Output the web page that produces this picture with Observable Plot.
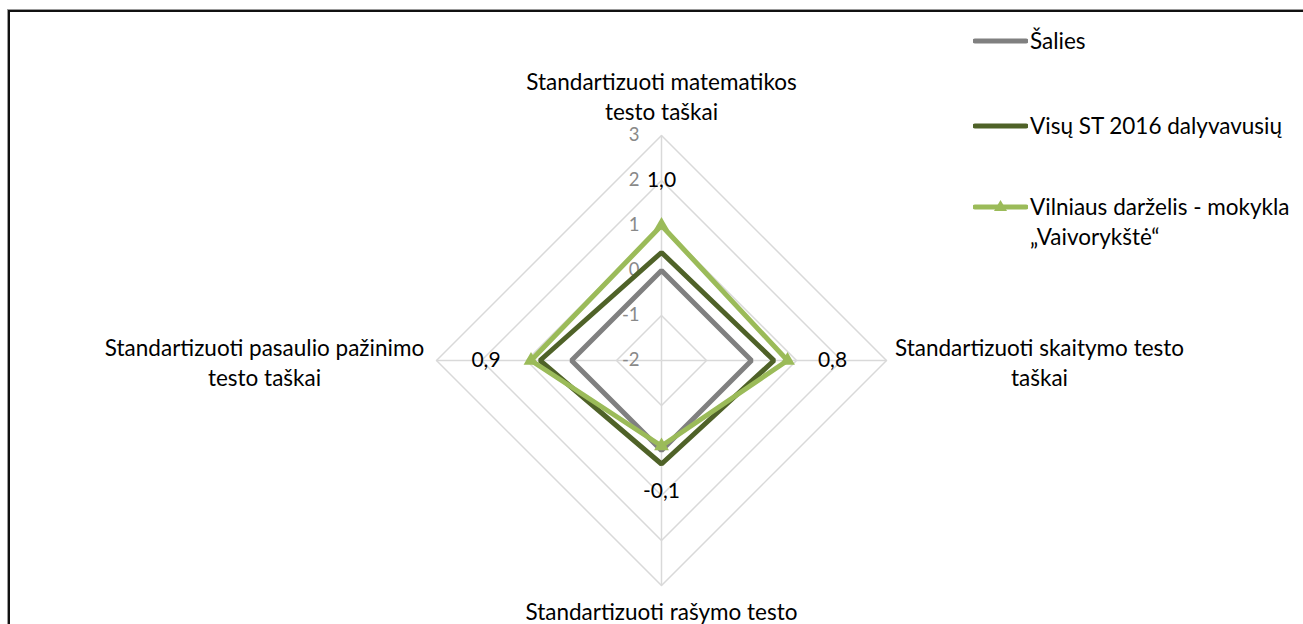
<!DOCTYPE html>
<html><head><meta charset="utf-8">
<script src="https://cdn.jsdelivr.net/npm/d3@7"></script>
<script src="https://cdn.jsdelivr.net/npm/@observablehq/plot@0.6"></script>
<style>
body{margin:0;background:#fff;font-family:Lato,"Open Sans",sans-serif;}
#wrap{position:relative;width:1303px;height:624px;overflow:hidden;background:#fff;}
#chart{position:absolute;left:0;top:0;}
#frame{position:absolute;left:8px;top:10px;width:1400px;height:700px;border-top:2px solid #111;border-left:2px solid #111;box-shadow:-1px -1px 0 #999;pointer-events:none;}
#legend{position:absolute;left:0;top:0;font-size:22.5px;color:#000;}
.item{position:absolute;left:973px;display:flex;align-items:flex-start;white-space:nowrap;line-height:30px;}
.item svg{flex:none;margin-right:2px;}
</style></head><body>
<div id="wrap"><div id="chart"></div><div id="legend"></div><div id="frame"></div></div>
<script>
// ---- data ----
const categories = ["Standartizuoti matematikos\ntesto taškai", "Standartizuoti skaitymo testo\ntaškai", "Standartizuoti rašymo testo\ntaškai", "Standartizuoti pasaulio pažinimo\ntesto taškai"];
const seriesNames = ["Šalies", "Visų ST 2016 dalyvavusių", "Vilniaus darželis - mokykla\n„Vaivorykštė“"];
const salies = [0, 0, 0, 0];
const visu = [0.4, 0.5, 0.3, 0.7];
const vilniaus = [1.0, 0.8, -0.1, 0.9];
const dataLabels = ["1,0", "0,8", "-0,1", "0,9"];
const tickValues = [-2, -1, 0, 1, 2, 3];
const tickLabels = ["-2", "-1", "0", "1", "2", "3"];
const colors = ["#808080", "#4f6228", "#9bbb59"];

// ---- layout ----
const W = 1303, H = 624, cx = 661, cy = 360, unit = 45;
const rMin = tickValues[0], rMax = tickValues[tickValues.length - 1];
const ang = i => i * 2 * Math.PI / categories.length;
const px = (v, i) => (v - rMin) * Math.sin(ang(i));
const py = (v, i) => (v - rMin) * Math.cos(ang(i));

const allSeries = [salies, visu, vilniaus];
const pts = [];
allSeries.forEach((vals, s) => vals.forEach((v, i) => pts.push({s, i, v, name: seriesNames[s]})));

const rings = [];
tickValues.slice(1).forEach(t => categories.forEach((c, i) => rings.push({t, i})));

const fs = 22.5;
const catOffsets = [{dx: 0, dy: -40}, {dx: 153, dy: 1}, {dx: 0, dy: 40}, {dx: -172, dy: 1}];

const marks = [
  Plot.line(rings, {x: d => px(d.t, d.i), y: d => py(d.t, d.i), z: "t", curve: "linear-closed", stroke: "#d9d9d9", strokeWidth: 1.5}),
  Plot.link(categories, {x1: 0, y1: 0, x2: (d, i) => px(rMax, i), y2: (d, i) => py(rMax, i), stroke: "#d9d9d9", strokeWidth: 1.5}),
  Plot.text(tickValues, {x: 0, y: d => d - rMin, text: (d, i) => tickLabels[i], textAnchor: "end", dx: -22, fill: "#898989", fontSize: 18.5}),
  Plot.line(pts, {x: d => px(d.v, d.i), y: d => py(d.v, d.i), z: "s", stroke: d => colors[d.s], curve: "linear-closed", strokeWidth: 5, strokeLinejoin: "miter"}),
  Plot.dot(pts.filter(d => d.s === 2), {x: d => px(d.v, d.i), y: d => py(d.v, d.i), symbol: "triangle", r: 5.5, fill: colors[2], stroke: "none"}),
  Plot.text(vilniaus, {x: (d, i) => px(d + 1, i), y: (d, i) => py(d + 1, i), text: (d, i) => dataLabels[i], fontSize: 21, fill: "#000"}),
  ...categories.map((c, i) => Plot.text([c], {x: px(rMax, i), y: py(rMax, i), text: d => d, dx: catOffsets[i].dx, dy: catOffsets[i].dy, lineAnchor: "middle", lineHeight: 30 / fs, fontSize: fs, fill: "#000"}))
];

const chart = Plot.plot({
  width: W, height: H, margin: 0,
  style: {background: "transparent", fontFamily: "Lato, 'Open Sans', sans-serif", overflow: "hidden"},
  x: {domain: [-cx / unit, (W - cx) / unit], range: [0, W], axis: null},
  y: {domain: [-(H - cy) / unit, cy / unit], range: [H, 0], axis: null},
  marks
});
document.getElementById("chart").appendChild(chart);

// ---- legend ----
const legendTops = [26, 111, 192];
const leg = document.getElementById("legend");
seriesNames.forEach((n, s) => {
  const it = document.createElement("div");
  it.className = "item";
  it.style.top = legendTops[s] + "px";
  const tri = s === 2 ? `<path d="M27.5,8 L34,19 L21,19 Z" fill="${colors[2]}"/>` : "";
  it.innerHTML = `<svg width="55" height="30"><line x1="2" y1="15" x2="53" y2="15" stroke="${colors[s]}" stroke-width="5" stroke-linecap="round"/>${tri}</svg><div>${n.replace("\n", "<br>")}</div>`;
  leg.appendChild(it);
});
</script>
</body></html>
